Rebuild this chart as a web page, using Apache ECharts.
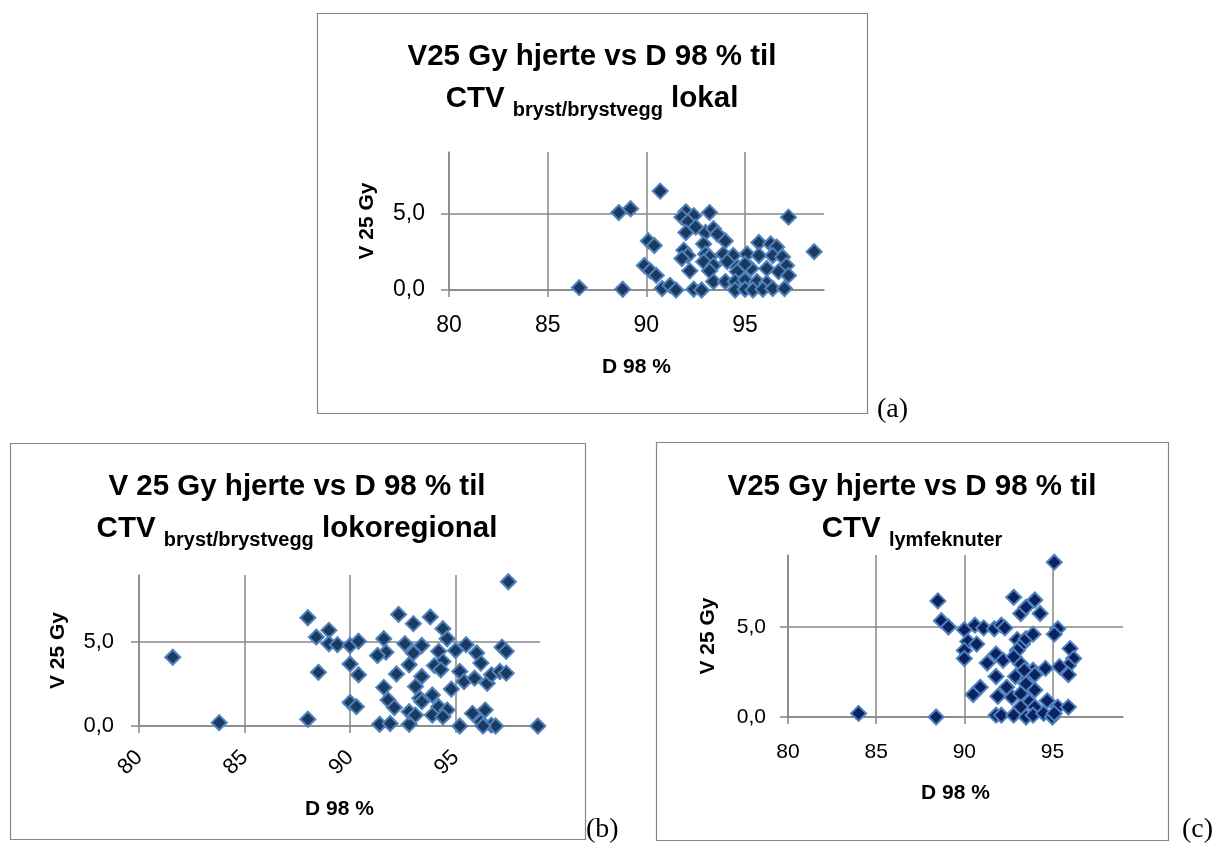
<!DOCTYPE html>
<html>
<head>
<meta charset="utf-8">
<title>V25 Gy hjerte vs D 98 %</title>
<script src="https://cdn.jsdelivr.net/npm/echarts@6/dist/echarts.min.js"></script>
<style>
html, body { margin: 0; padding: 0; background: #fff; }
#chart { width: 1220px; height: 844px; }
</style>
</head>
<body>
<div id="chart"></div>
<script>
// (a) CTV bryst/brystvegg lokal
var lokalD98 = [86.6, 88.8, 88.6, 89.2, 90.7, 90.1, 90.4, 89.9, 90.2, 90.5, 90.8, 91.2, 91.5, 92.0, 91.8, 92.4, 92.1, 93.2,
    92.0, 92.5, 93.0, 93.4, 93.6, 94.0, 92.9, 91.9, 92.1, 91.8, 93.0, 93.2, 92.9, 93.4, 92.2, 93.9, 94.4, 94.1, 94.6, 95.1,
    95.7, 96.3, 96.6, 95.7, 96.4, 96.9, 97.1, 95.3, 96.1, 96.7, 97.2, 94.6, 95.0, 93.2, 93.4, 94.0, 94.5, 95.0, 95.6, 96.1,
    92.4, 92.8, 94.5, 95.0, 95.4, 95.9, 96.4, 97.0, 97.2, 98.5];
var lokalV25 = [0.15, 0.05, 5.05, 5.3, 6.45, 3.2, 2.9, 1.6, 1.25, 0.95, 0.1, 0.3, 0, 5.1, 4.75, 4.85, 4.45, 5.05,
    3.75, 4.1, 3.75, 4.0, 3.65, 3.2, 3.0, 2.6, 2.25, 2.05, 2.35, 2.15, 1.85, 1.6, 1.25, 2.35, 2.25, 1.85, 1.5, 2.35,
    3.1, 3.0, 2.8, 2.25, 2.25, 2.15, 1.6, 1.4, 1.4, 1.2, 0.95, 1.2, 1.7, 1.25, 0.55, 0.55, 0.55, 0.65, 0.55, 0.45,
    0.05, 0, 0, 0.05, 0, 0.05, 0.1, 0.1, 4.75, 2.5];

// (b) CTV bryst/brystvegg lokoregional
var lokoregD98 = [81.6, 83.8, 88.0, 88.0, 88.4, 89.0, 89.0, 89.4, 90.0, 90.4, 88.5, 90.0, 90.4, 90.0, 90.3, 92.3,
    93.0, 91.6, 91.7, 91.3, 92.6, 92.8, 92.2, 91.6, 91.8, 92.1, 91.4, 91.9, 92.8, 92.8, 97.5, 93.8, 94.4, 94.6,
    95.5, 95.0, 93.4, 94.2, 93.0, 96.0, 96.2, 97.2, 97.4, 94.4, 94.0, 94.3, 93.4, 95.2, 95.4, 95.9, 96.5, 96.7,
    97.1, 97.4, 94.8, 93.1, 93.3, 93.9, 93.4, 94.2, 94.6, 93.1, 93.9, 94.4, 95.2, 95.8, 96.4, 96.2, 96.7, 96.9,
    98.9, 96.3];
var lokoregV25 = [4.1, 0.2, 0.4, 6.45, 5.3, 5.7, 4.9, 4.85, 4.8, 5.05, 3.2, 3.7, 3.05, 1.4, 1.15, 6.65,
    6.1, 5.2, 4.4, 4.2, 4.9, 3.65, 3.1, 2.3, 1.55, 1.1, 0.1, 0.15, 0.1, 0.85, 8.6, 6.5, 5.8, 5.2,
    4.85, 4.5, 4.8, 4.45, 4.35, 4.35, 3.75, 4.7, 4.45, 3.85, 3.6, 3.35, 2.95, 3.25, 2.65, 2.85, 2.55, 3.05,
    3.25, 3.15, 2.2, 2.35, 1.65, 1.85, 1.45, 1.15, 0.95, 0.65, 0.65, 0.55, 0, 0.75, 0.95, 0.25, 0.05, 0,
    0, 0];

// (c) CTV lymfeknuter
var lymfD98 = [84.0, 88.4, 88.5, 88.7, 89.1, 90.0, 90.6, 91.1, 90.2, 90.7, 90.0, 90.0, 91.7, 92.1, 92.3, 92.8,
    91.8, 91.3, 92.2, 91.8, 90.9, 90.5, 91.9, 92.4, 91.8, 92.1, 93.2, 93.5, 94.0, 93.0, 93.3, 93.5, 93.0, 93.2,
    92.8, 92.9, 93.6, 93.9, 92.7, 93.2, 93.5, 94.0, 93.7, 93.2, 92.8, 93.5, 94.0, 95.1, 94.3, 95.3, 95.1, 93.9,
    96.0, 96.2, 95.9, 95.4, 95.9, 94.6, 94.0, 93.4, 94.7, 95.3, 95.9, 93.9, 94.5, 95.0, 95.1];
var lymfV25 = [0.2, 0, 6.45, 5.35, 5.0, 4.85, 5.1, 4.95, 4.2, 4.05, 3.7, 3.25, 4.9, 5.1, 4.95, 6.65,
    3.5, 3.0, 3.15, 2.25, 1.65, 1.25, 1.15, 1.65, 0.1, 0.1, 5.75, 6.1, 6.5, 4.3, 4.05, 4.35, 3.7, 2.95,
    3.35, 2.25, 2.2, 2.6, 1.1, 1.3, 1.85, 1.5, 0.85, 0.55, 0.1, 0, 0.55, 8.6, 5.75, 4.9, 4.6, 4.6,
    3.8, 3.25, 2.85, 2.8, 2.35, 2.7, 2.35, 2.6, 0.9, 0.55, 0.55, 0.1, 0.2, 0, 0.2];

var xTicks = [80, 85, 90, 95];
var yTicks = [0, 5];

var FONT = '"Liberation Sans", Arial, sans-serif';
var SERIF = '"Liberation Serif", "Times New Roman", serif';
var GRAY = '#878787';

function pairs(xs, ys) {
    return xs.map(function (x, i) { return [x, ys[i]]; });
}

function commaLabel(v) {
    return v.toFixed(1).replace('.', ',');
}

function makeX(idx, opts) {
    return {
        type: 'value', gridIndex: idx, min: 80, max: 99, interval: 5,
        name: 'D 98 %', nameLocation: 'middle', nameGap: opts.nameGap,
        nameTextStyle: { fontFamily: FONT, fontWeight: 'bold', fontSize: 21, color: '#000' },
        axisLine: { show: true, onZero: false, lineStyle: { color: GRAY, width: 1.5 } },
        axisTick: { show: true, inside: false, length: 7, customValues: xTicks, lineStyle: { color: GRAY, width: 1.5 } },
        axisLabel: { customValues: xTicks, rotate: opts.rotate || 0, margin: opts.margin,
            fontFamily: FONT, fontSize: opts.fontSize, color: '#000' },
        splitLine: { show: true, lineStyle: { color: GRAY, width: 1.5 } }
    };
}

function makeY(idx, opts) {
    return {
        type: 'value', gridIndex: idx, min: 0, max: 9, interval: 5,
        name: 'V 25 Gy', nameLocation: 'middle', nameGap: opts.nameGap,
        nameTextStyle: { fontFamily: FONT, fontWeight: 'bold', fontSize: 21, color: '#000' },
        axisLine: { show: true, lineStyle: { color: GRAY, width: 1.5 } },
        axisTick: { show: true, inside: false, length: 8, customValues: yTicks, lineStyle: { color: GRAY, width: 1.5 } },
        axisLabel: { customValues: yTicks, margin: opts.margin, formatter: commaLabel,
            fontFamily: FONT, fontSize: opts.fontSize, color: '#000' },
        splitLine: { show: true, lineStyle: { color: GRAY, width: 1.5 } }
    };
}

function scatter(idx, data, fill) {
    return {
        type: 'scatter', xAxisIndex: idx, yAxisIndex: idx, data: data,
        symbol: 'diamond', symbolSize: 15,
        itemStyle: { color: fill, borderColor: '#4f81bd', borderWidth: 2, opacity: 1 }
    };
}

var titleRich = {
    m: { fontFamily: FONT, fontWeight: 'bold', fontSize: 29.5, lineHeight: 42, color: '#000' },
    s: { fontFamily: FONT, fontWeight: 'bold', fontSize: 20, lineHeight: 20, verticalAlign: 'bottom', color: '#000' }
};

function titleText(cx, top, line1, sub, tail) {
    return {
        type: 'text', x: cx, y: top,
        style: {
            text: '{m|' + line1 + '}\n{m|CTV }{s|' + sub + '}' + (tail ? '{m| ' + tail + '}' : ''),
            rich: titleRich, align: 'center', verticalAlign: 'top'
        }
    };
}

function frame(x, y, w, h) {
    return {
        type: 'rect', shape: { x: x + 0.5, y: y + 0.5, width: w, height: h },
        style: { fill: 'none', stroke: GRAY, lineWidth: 1.2 }
    };
}

function panelLabel(x, y, txt) {
    return {
        type: 'text', x: x, y: y,
        style: { text: txt, fontFamily: SERIF, fontSize: 28, fill: '#000', align: 'left', verticalAlign: 'middle' }
    };
}

var chart = echarts.init(document.getElementById('chart'));
chart.setOption({
    animation: false,
    backgroundColor: '#fff',
    grid: [
        { left: 449, top: 152, width: 375, height: 138 },
        { left: 139, top: 575, width: 401, height: 151 },
        { left: 788, top: 555, width: 335, height: 162 }
    ],
    xAxis: [
        makeX(0, { nameGap: 67, margin: 24, fontSize: 23 }),
        makeX(1, { nameGap: 73, margin: 28, fontSize: 22, rotate: 45 }),
        makeX(2, { nameGap: 66, margin: 25, fontSize: 21 })
    ],
    yAxis: [
        makeY(0, { nameGap: 71, margin: 24, fontSize: 23 }),
        makeY(1, { nameGap: 70, margin: 25, fontSize: 22 }),
        makeY(2, { nameGap: 69, margin: 22, fontSize: 21 })
    ],
    series: [
        scatter(0, pairs(lokalD98, lokalV25), '#1b3a60'),
        scatter(1, pairs(lokoregD98, lokoregV25), '#1b3a60'),
        scatter(2, pairs(lymfD98, lymfV25), '#0b2160')
    ],
    graphic: [
        frame(317, 13, 550, 400),
        frame(10, 443, 575, 396),
        frame(656, 442, 512, 398),
        titleText(592, 36, 'V25 Gy hjerte vs D 98 % til', 'bryst/brystvegg', 'lokal'),
        titleText(297, 466, 'V 25 Gy hjerte vs D 98 % til', 'bryst/brystvegg', 'lokoregional'),
        titleText(912, 466, 'V25 Gy hjerte vs D 98 % til', 'lymfeknuter', ''),
        panelLabel(877, 410, '(a)'),
        panelLabel(586, 830, '(b)'),
        panelLabel(1182, 830, '(c)')
    ]
});
</script>
</body>
</html>
